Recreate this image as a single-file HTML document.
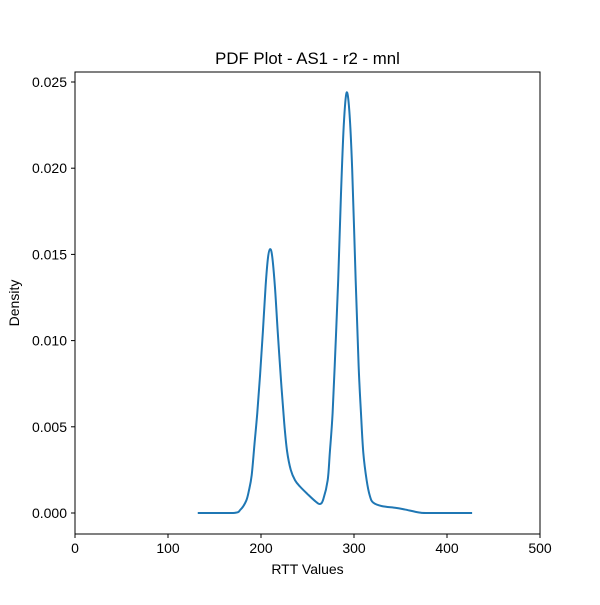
<!DOCTYPE html>
<html><head><meta charset="utf-8"><style>
body{margin:0;background:#fff}
svg text{font-family:"Liberation Sans","DejaVu Sans",sans-serif;fill:#000}
</style></head><body>
<svg id="chart" width="600" height="600" viewBox="0 0 600 600">
<rect x="0" y="0" width="600" height="600" fill="#fff"/>
<text x="307.5" y="64" font-size="16.8" text-anchor="middle">PDF Plot - AS1 - r2 - mnl</text>
<g id="ticks"></g>
<path id="curve" fill="none" stroke="#1f77b4" stroke-width="2"/>
<rect x="75" y="72" width="465" height="462" fill="none" stroke="#000" stroke-width="1"/>
<text x="307.5" y="574" font-size="14" text-anchor="middle">RTT Values</text>
<text x="19" y="303" font-size="14" text-anchor="middle" transform="rotate(-90 19 303)">Density</text>
</svg>
<script>
const xs=[132,170,178,184,187,190,193,196,199,202,205,207.5,209.7,212,215,218,221.5,225,228,232,236.6,242,250,258,263.4,267,271.7,274,277,280,283,286,289,292,295,298,301.8,305,307.5,310,313.6,317,320.7,330,345,355,370,380,427];
const ys=[0,0,0.0002,0.0007,0.0013,0.0022,0.004,0.0058,0.008,0.0105,0.0132,0.0148,0.0153,0.0149,0.0131,0.0105,0.0077,0.0052,0.0036,0.0025,0.0019,0.00153,0.0011,0.0007,0.00052,0.0008,0.0019,0.0035,0.0058,0.0095,0.0135,0.0185,0.0225,0.02438,0.0233,0.02,0.0135,0.0085,0.0058,0.0035,0.0019,0.001,0.0006,0.0004,0.0003,0.0002,0.00003,0,0];
const xTicks=[0,100,200,300,400,500];
const yTicks=[0,0.005,0.01,0.015,0.02,0.025];
const yLabels=["0.000","0.005","0.010","0.015","0.020","0.025"];
function sx(v){return 75+v*0.93;}
function sy(v){return 513-v*17240;}
const NS="http://www.w3.org/2000/svg";
const g=document.getElementById('ticks');
xTicks.forEach(t=>{
  const l=document.createElementNS(NS,'line');
  l.setAttribute('x1',sx(t));l.setAttribute('x2',sx(t));l.setAttribute('y1',534);l.setAttribute('y2',538);l.setAttribute('stroke','#000');
  
  
  g.appendChild(l);
  const tx=document.createElementNS(NS,'text');
  tx.setAttribute('x',sx(t));tx.setAttribute('y',553);tx.setAttribute('font-size','14');tx.setAttribute('text-anchor','middle');tx.textContent=t;
  
  
  g.appendChild(tx);
});
yTicks.forEach((t,i)=>{
  const l=document.createElementNS(NS,'line');
  l.setAttribute('x1',71);l.setAttribute('x2',75);l.setAttribute('y1',sy(t));l.setAttribute('y2',sy(t));l.setAttribute('stroke','#000');
  
  
  g.appendChild(l);
  const tx=document.createElementNS(NS,'text');
  tx.setAttribute('x',67);tx.setAttribute('y',sy(t)+5);tx.setAttribute('font-size','14');tx.setAttribute('text-anchor','end');tx.textContent=yLabels[i];
  
  
  g.appendChild(tx);
});
const P=xs.map((x,i)=>[sx(x),sy(ys[i])]);
let d='M'+P[0][0]+','+P[0][1];
for(let i=0;i<P.length-1;i++){
  const p0=P[Math.max(0,i-1)],p1=P[i],p2=P[i+1],p3=P[Math.min(P.length-1,i+2)];
  const c1=[p1[0]+(p2[0]-p0[0])/6,p1[1]+(p2[1]-p0[1])/6];
  const c2=[p2[0]-(p3[0]-p1[0])/6,p2[1]-(p3[1]-p1[1])/6];
  c1[1]=Math.min(c1[1],513);c2[1]=Math.min(c2[1],513);
  d+=' C'+c1[0]+','+c1[1]+' '+c2[0]+','+c2[1]+' '+p2[0]+','+p2[1];
}
document.getElementById('curve').setAttribute('d',d);
</script>
</body></html>
